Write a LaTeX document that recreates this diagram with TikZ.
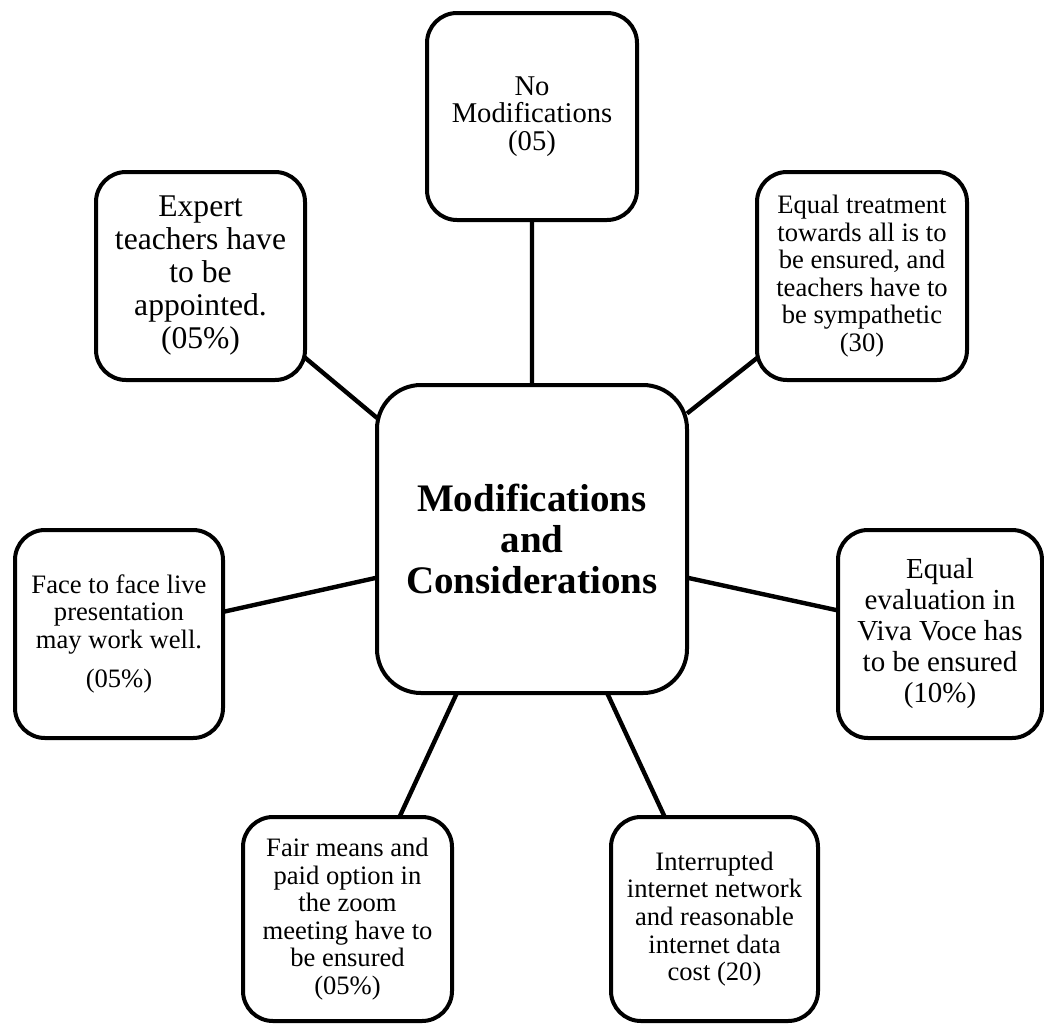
\documentclass[tikz,border=0pt]{standalone}
\usepackage{fontspec}
\setmainfont{Liberation Serif}
\usetikzlibrary{backgrounds}

\tikzset{
  idea/.style={draw, line width=2pt, rounded corners=15pt, fill=white, align=center,
    inner sep=0pt, outer sep=0pt, font=\fontsize{13.3}{13.8}\selectfont},
  hub/.style={idea, rounded corners=22pt, minimum width=155pt, minimum height=154pt,
    font=\fontsize{19.5}{20.5}\selectfont\bfseries},
  link/.style={line width=2.2pt}
}

\begin{document}
\begin{tikzpicture}[x=0.5pt, y=-0.5pt]
\useasboundingbox (0,0) rectangle (1044,1023);

\node[hub] (main) at (532,539) {Modifications\\and\\Considerations};

\node[idea, minimum width=105pt, minimum height=103.5pt,
  font=\fontsize{14.3}{13.8}\selectfont] (nomod) at (532,116.5)
  {No\\Modifications\\(05)};
\node[idea, minimum width=104.5pt, minimum height=104pt,
  font=\fontsize{15.8}{16.5}\selectfont] (expert) at (200.5,276)
  {Expert\\teachers have\\to be\\appointed.\\(05\%)};
\node[idea, minimum width=105pt, minimum height=104pt] (treat) at (862,276)
  {Equal treatment\\towards all is to\\be ensured, and\\teachers have to\\be sympathetic\\(30)};
\node[idea, minimum width=104pt, minimum height=104pt] (face) at (119,634)
  {Face to face live\\presentation\\may work well.\\[6pt](05\%)};
\node[idea, minimum width=102pt, minimum height=104pt,
  font=\fontsize{14.5}{15.5}\selectfont] (viva) at (940,634)
  {Equal\\evaluation in\\Viva Voce has\\to be ensured\\(10\%)};
\node[idea, minimum width=104.5pt, minimum height=102pt] (fair) at (347.5,919)
  {Fair means and\\paid option in\\the zoom\\meeting have to\\be ensured\\(05\%)};
\node[idea, minimum width=103.5pt, minimum height=102pt] (net) at (714.5,919)
  {Interrupted\\internet network\\and reasonable\\internet data\\cost (20)};

\begin{scope}[on background layer]
\draw[link] (nomod.south) -- (main.north)
  (expert.-38) -- (main.142)
  (treat.-142) -- (main.39)
  (face.12) -- (main.-166)
  (viva.167) -- (main.-14)
  (fair.63) -- (main.-116)
  (net.116) -- (main.-64);
\end{scope}
\end{tikzpicture}
\end{document}
